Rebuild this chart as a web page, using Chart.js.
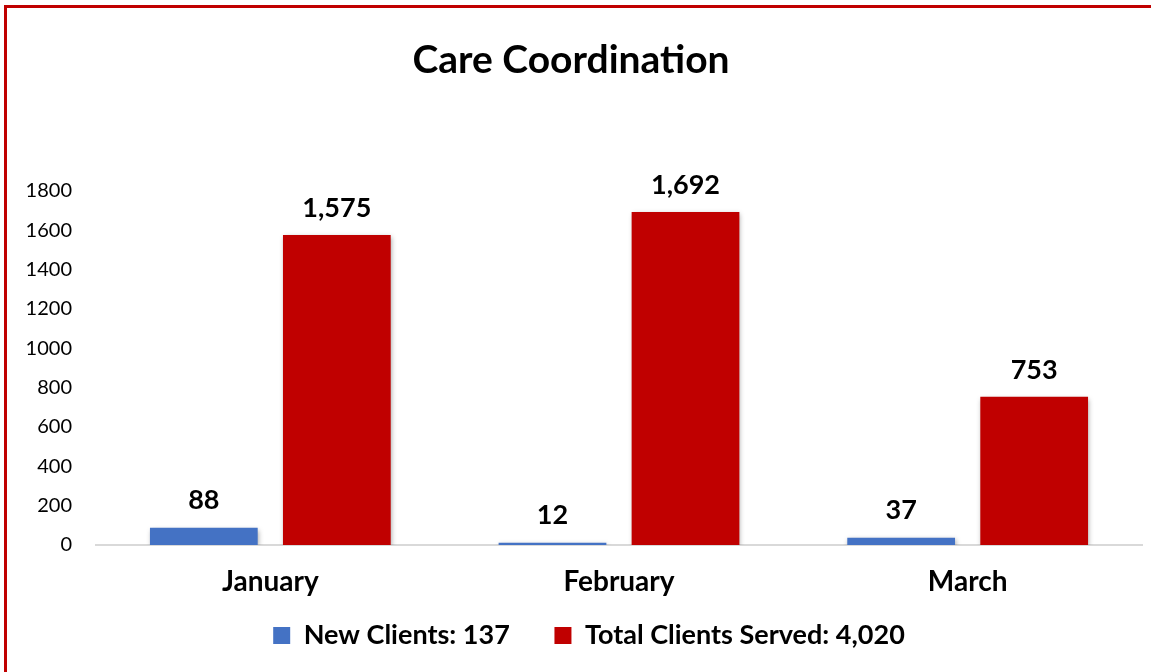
<!DOCTYPE html>
<html>
<head>
<meta charset="utf-8">
<script src="https://cdn.jsdelivr.net/npm/chart.js@4/dist/chart.umd.min.js"></script>
<style>
  body { margin: 0; background: #fff; }
  #wrap { position: relative; width: 1151px; height: 672px; }
  #frame {
    position: absolute; left: 4px; top: 5px; right: 0; bottom: 0;
    border-top: 3px solid #c00000; border-left: 3px solid #c00000;
    pointer-events: none;
  }
</style>
</head>
<body>
<div id="wrap">
  <canvas id="care-chart" width="1151" height="672"></canvas>
  <div id="frame"></div>
</div>
<script>
// values
var months = ["January", "February", "March"];
var newClients = [88, 12, 37];
var totalServed = [1575, 1692, 753];
var yTicks = [0, 200, 400, 600, 800, 1000, 1200, 1400, 1600, 1800];

function sum(arr) {
    return arr.reduce(function(a, b) { return a + b; }, 0);
}
function fmt(n) {
    return n.toLocaleString("en-US");
}

var FONT = "Lato, 'Open Sans', sans-serif";

function blueFill(ctx) {
    var chart = ctx.chart;
    if (ctx.type === "data") {
        // gradient per bar so short bars still show it
        var el = chart.getDatasetMeta(ctx.datasetIndex).data[ctx.dataIndex];
        if (el && el.y !== undefined && el.base !== undefined && el.base - el.y > 1) {
            var g = chart.ctx.createLinearGradient(0, el.y, 0, el.base);
            g.addColorStop(0, "#5f88d2");
            g.addColorStop(1, "#3665bf");
            return g;
        }
    }
    return "#4472c4";
}

// bar shadows
var shadowPlugin = {
    id: "barShadow",
    beforeDatasetsDraw: function(chart) {
        var c = chart.ctx;
        c.save();
        c.shadowColor = "rgba(0,0,0,0.35)";
        c.shadowBlur = 5;
        c.shadowOffsetX = 1;
        c.shadowOffsetY = 2;
    },
    afterDatasetsDraw: function(chart) {
        chart.ctx.restore();
    }
};

// value labels above the bars
var valueLabels = {
    id: "valueLabels",
    afterDatasetsDraw: function(chart) {
        var c = chart.ctx;
        c.save();
        c.font = "bold 27px " + FONT;
        c.fillStyle = "#000";
        c.textAlign = "center";
        c.textBaseline = "middle";
        chart.data.datasets.forEach(function(ds, i) {
            var meta = chart.getDatasetMeta(i);
            meta.data.forEach(function(bar, j) {
                c.fillText(fmt(ds.data[j]), bar.x, bar.y - 27);
            });
        });
        c.restore();
    }
};

// legend sits a bit right of centre in the original
var legendShift = {
    id: "legendShift",
    afterLayout: function(chart) {
        if (chart.legend) {
            chart.legend.left += 18;
            chart.legend.right += 18;
        }
    }
};

new Chart(document.getElementById("care-chart"), {
    type: "bar",
    data: {
        labels: months,
        datasets: [
            {
                label: "New Clients: " + fmt(sum(newClients)),
                data: newClients,
                backgroundColor: blueFill,
                borderWidth: 0
            },
            {
                label: "Total Clients Served: " + fmt(sum(totalServed)),
                data: totalServed,
                backgroundColor: "#c00000",
                borderWidth: 0
            }
        ]
    },
    plugins: [shadowPlugin, valueLabels, legendShift],
    options: {
        responsive: false,
        animation: false,
        categoryPercentage: 0.763,
        barPercentage: 0.81,
        layout: {
            padding: { left: 0, right: 9, top: 0, bottom: 13 }
        },
        plugins: {
            title: {
                display: true,
                text: "Care Coordination",
                color: "#000",
                font: { family: FONT, size: 39, weight: "bold" },
                padding: { top: 37, bottom: 107 }
            },
            legend: {
                position: "bottom",
                labels: {
                    color: "#000",
                    font: { family: FONT, size: 27, weight: "bold" },
                    boxWidth: 17,
                    boxHeight: 17,
                    padding: 21,
                    generateLabels: function(chart) {
                        var items = Chart.defaults.plugins.legend.labels.generateLabels(chart);
                        items[0].fillStyle = "#4472c4";
                        // wider gap between the two entries
                        items[0].text = items[0].text + "\u2003\u2009";
                        return items;
                    }
                }
            },
            tooltip: { enabled: false }
        },
        scales: {
            x: {
                grid: { display: false, drawTicks: false },
                border: { display: true, color: "#d9d9d9", width: 2 },
                ticks: {
                    color: "#000",
                    padding: 20,
                    font: { family: FONT, size: 28, weight: "bold" }
                },
                afterFit: function(scale) {
                    scale.height = 56;
                }
            },
            y: {
                min: 0,
                max: 1800,
                afterBuildTicks: function(scale) {
                    scale.ticks = yTicks.map(function(v) { return { value: v }; });
                },
                grid: { display: false, drawTicks: false },
                border: { display: false },
                ticks: {
                    color: "#000",
                    padding: 24,
                    font: { family: FONT, size: 20 },
                    callback: function(v) { return String(v); }
                },
                afterFit: function(scale) {
                    scale.width = 96;
                }
            }
        }
    }
});
</script>
</body>
</html>
